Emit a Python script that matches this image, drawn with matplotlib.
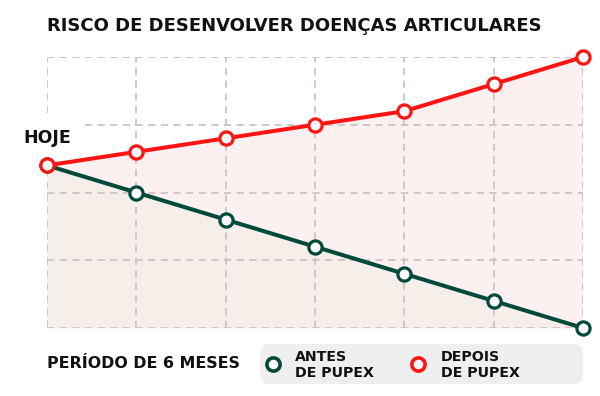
import matplotlib
matplotlib.use("Agg")
import matplotlib.pyplot as plt
from matplotlib.patches import FancyBboxPatch
from matplotlib.lines import Line2D

# Data (risk index, 0-100 scale) over the 6-month period
months = [0, 1, 2, 3, 4, 5, 6]
depois = [60, 65, 70, 75, 80, 90, 100]
antes = [60, 50, 40, 30, 20, 10, 0]
y_ticks = [0, 25, 50, 75, 100]

title = "RISCO DE DESENVOLVER DOENÇAS ARTICULARES"
label_start = "HOJE"
label_period = "PERÍODO DE 6 MESES"
label_antes = "ANTES\nDE PUPEX"
label_depois = "DEPOIS\nDE PUPEX"

RED = "#ff1414"
GREEN = "#004a3c"
PINK = "#fdf0f0"
BEIGE = "#f6efe9"
GRID = "#cdc3c3"

plt.rcParams['font.family'] = ['DejaVu Sans']

W, H = 600, 396
fig = plt.figure(figsize=(W / 100, H / 100), dpi=100)
fig.patch.set_facecolor("white")


def fx(px):
    return px / W


def fy(py):
    return 1 - py / H


ax = fig.add_axes([fx(47), fy(328), fx(583) - fx(47), fy(57) - fy(328)])
ax.set_xlim(months[0], months[-1])
ax.set_ylim(y_ticks[0], y_ticks[-1])

# area fills
ax.fill_between(months, 0, depois, color=PINK, lw=0, zorder=1)
ax.fill_between(months, 0, antes, color=BEIGE, lw=0, zorder=2)

# dashed grid
for x in months:
    ax.axvline(x, color=GRID, lw=1.3, ls=(0, (4, 3)), zorder=3)
for y in y_ticks:
    ax.axhline(y, color=GRID, lw=1.3, ls=(0, (4, 3)), zorder=3)

for s in ax.spines.values():
    s.set_visible(False)
ax.set_xticks([])
ax.set_yticks([])

# lines
ax.plot(months, antes, color=GREEN, lw=2.9, marker='o', ms=9.5, mfc='white',
        mec=GREEN, mew=2.3, zorder=5, clip_on=False)
ax.plot(months, depois, color=RED, lw=2.9, marker='o', ms=9.5, mfc='white',
        mec=RED, mew=2.3, zorder=6, clip_on=False)

# texts
fig.text(fx(47), fy(26), title, fontsize=13, fontweight='bold', va='center',
         ha='left', color='#111111')
fig.text(fx(23), fy(138), label_start, fontsize=12.5, fontweight='bold', va='center',
         ha='left', color='#111111', zorder=10,
         bbox=dict(facecolor='white', edgecolor='none', pad=7))
fig.text(fx(47), fy(364), label_period, fontsize=11.4, fontweight='bold', va='center',
         ha='left', color='#111111')

# legend box
box = FancyBboxPatch((2.60, (H - 384) / 100), 3.23, 0.40,
                     boxstyle="round,pad=0,rounding_size=0.09",
                     transform=fig.dpi_scale_trans, facecolor='#efefef',
                     edgecolor='none', zorder=0)
fig.patches.append(box)

fig.add_artist(Line2D([fx(273)], [fy(364)], marker='o', ms=9.5, mfc='white',
                      mec=GREEN, mew=2.6, transform=fig.transFigure))
fig.add_artist(Line2D([fx(418)], [fy(364)], marker='o', ms=9.5, mfc='white',
                      mec=RED, mew=2.6, transform=fig.transFigure))
fig.text(fx(295), fy(365), label_antes, fontsize=10.2, fontweight='bold', va='center',
         ha='left', color='#111111', linespacing=1.1)
fig.text(fx(441), fy(365), label_depois, fontsize=10.2, fontweight='bold', va='center',
         ha='left', color='#111111', linespacing=1.1)

fig.savefig("out.png", dpi=100)
